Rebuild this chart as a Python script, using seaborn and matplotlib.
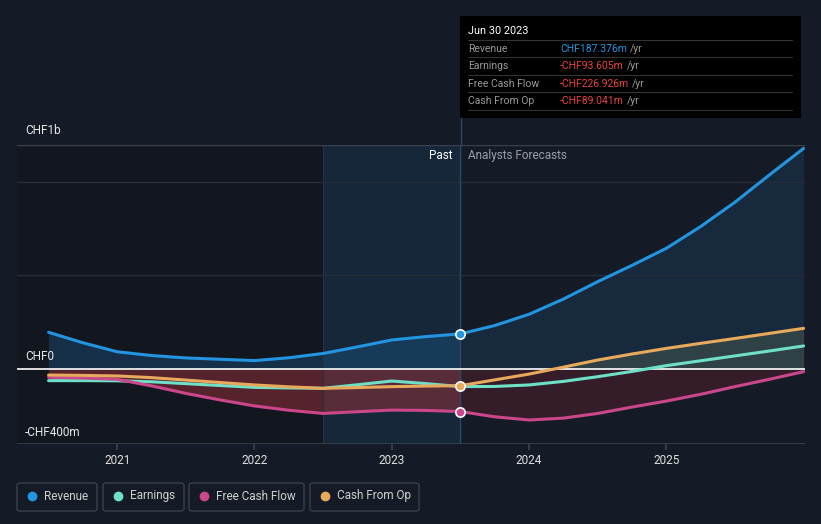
import numpy as np
import pandas as pd
import matplotlib.pyplot as plt
import seaborn as sns
from matplotlib.patches import FancyBboxPatch, Rectangle

# values in CHF millions, x in decimal years
years_past = [2020.5, 2020.75, 2021.0, 2021.25, 2021.5, 2021.75, 2022.0,
              2022.25, 2022.5, 2022.75, 2023.0, 2023.25, 2023.5]
years_fc = [2023.5, 2023.75, 2024.0, 2024.25, 2024.5, 2024.75, 2025.0,
            2025.25, 2025.5, 2025.75, 2026.0]

revenue_past = [196, 140, 92, 72, 59, 52, 45, 60, 83, 118, 155, 173, 187.376]
revenue_fc = [187.376, 232, 292, 373, 466, 553, 644, 760, 890, 1035, 1177]
earnings_past = [-62, -62, -63, -68, -78, -88, -98, -101, -103, -84, -64, -78, -93.605]
earnings_fc = [-93.605, -93, -85, -66, -41, -13, 18, 44, 70, 96, 123]
fcf_past = [-44, -48, -55, -90, -130, -165, -197, -220, -237, -228, -219, -221, -226.926]
fcf_fc = [-226.926, -255, -272, -262, -237, -203, -171, -135, -94, -55, -14]
cfo_past = [-32, -34, -37, -46, -59, -72, -85, -95, -103, -99, -94, -91, -89.041]
cfo_fc = [-89.041, -58, -27, 10, 48, 80, 110, 137, 163, 190, 217]

series_names = ['Revenue', 'Earnings', 'Free Cash Flow', 'Cash From Op']
colors = ['#2394df', '#6ee0c8', '#c9478a', '#e8a95d']
tip_values = ['CHF187.376m', '-CHF93.605m', '-CHF226.926m', '-CHF89.041m']

bg = '#151b26'
sns.set_theme(style='dark')
plt.rcParams['font.family'] = ['Roboto', 'DejaVu Sans']

fig = plt.figure(figsize=(8.21, 5.24), dpi=100, facecolor=bg)
ax = fig.add_axes([17/821, 80/524, 788/821, 299/524])
ax.set_facecolor(bg)

ymin, ymax = -400, 1195
ax.set_xlim(2020.27, 2026.01)
ax.set_ylim(ymin, ymax)

# shaded areas
ax.axvspan(2020.27, 2022.5, color='#0f131b', alpha=0.6, lw=0)
ax.axvspan(2022.5, 2023.5, color='#163a58', alpha=0.4, lw=0)
ax.axvline(2022.5, color='#26323e', lw=0.8)

rows = []
for name, past, fc in zip(series_names,
                          [revenue_past, earnings_past, fcf_past, cfo_past],
                          [revenue_fc, earnings_fc, fcf_fc, cfo_fc]):
    for x, v in zip(years_past, past):
        rows.append({'year': x, 'value': v, 'series': name})
    for x, v in zip(years_fc[1:], fc[1:]):
        rows.append({'year': x, 'value': v, 'series': name})
df = pd.DataFrame(rows)

all_x = years_past + years_fc[1:]
rev = np.array(revenue_past + revenue_fc[1:])
fcf = np.array(fcf_past + fcf_fc[1:])
cfo = np.array(cfo_past + cfo_fc[1:])
earn = np.array(earnings_past + earnings_fc[1:])
n = len(years_past)

ax.fill_between(all_x[:n], 0, rev[:n], color='#1f5f95', alpha=0.35, lw=0)
ax.fill_between(all_x[n - 1:], 0, rev[n - 1:], color='#1d4a72', alpha=0.3, lw=0)
lowest = np.minimum(np.minimum(fcf, cfo), earn)
ax.fill_between(all_x[:n], 0, lowest[:n], color='#b8333c', alpha=0.42, lw=0)
ax.fill_between(all_x[n - 1:], 0, np.minimum(lowest[n - 1:], 0), color='#6e2330', alpha=0.35, lw=0)
ax.fill_between(all_x[n - 1:], 0, np.maximum(np.maximum(cfo, earn)[n - 1:], 0),
                color='#4a5a50', alpha=0.5, lw=0)

# grid lines
for yv in [500, 1000, ymax]:
    ax.axhline(yv, color='#3a414d' if yv == ymax else '#262d38', lw=1)
ax.axhline(0, color='white', lw=1.2, zorder=3)
ax.axhline(ymin, color='#3a414d', lw=1.2)

palette = dict(zip(series_names, colors))
sns.lineplot(data=df, x='year', y='value', hue='series', palette=palette,
             lw=2.2, legend=False, ax=ax, zorder=4, sort=True)

# points at Jun 30 2023
ax.axvline(2023.5, color='#2a4a66', lw=1, zorder=2)
for name, col in zip(series_names, colors):
    if name == 'Earnings':
        continue
    v = df[(df.series == name) & (df.year == 2023.5)].value.iloc[0]
    ax.scatter([2023.5], [v], s=45, color=col, edgecolor='white', lw=1.2, zorder=6)

ax.set_xticks([2021, 2022, 2023, 2024, 2025])
ax.set_xticklabels(['2021', '2022', '2023', '2024', '2025'], color='#e0e0e0', fontsize=8.5)
ax.tick_params(axis='x', length=4, color='#3a414d', pad=3, bottom=True)
ax.set_yticks([])
ax.set_xlabel('')
ax.set_ylabel('')
for s in ax.spines.values():
    s.set_visible(False)

# y labels
fig.text(25/821, 1 - 131/524, 'CHF1b', color='#e8e8e8', fontsize=8.5, va='center')
fig.text(25/821, 1 - 357/524, 'CHF0', color='#e8e8e8', fontsize=8.5, va='center')
fig.text(25/821, 1 - 432/524, '-CHF400m', color='#e8e8e8', fontsize=8.5, va='center')

fig.text(452/821, 1 - 156/524, 'Past', color='white', fontsize=8.5, ha='right', va='center')
fig.text(468/821, 1 - 156/524, 'Analysts Forecasts', color='#9aa0a8', fontsize=8.5, va='center')

# tooltip
fig.add_artist(plt.Line2D([461/821, 461/821], [1 - 145/524, 1 - 118/524], color='#2a4a66', lw=1))
fig.add_artist(Rectangle((460/821, 1 - 118/524), 341/821, 102/524, transform=fig.transFigure,
                         facecolor='black', edgecolor='none'))
fig.text(468/821, 1 - 31/524, 'Jun 30 2023', color='white', fontsize=7.8, va='center')
row_y = [49, 66, 84, 101]
for i, (name, val) in enumerate(zip(series_names, tip_values)):
    yy = 1 - row_y[i] / 524
    fig.add_artist(plt.Line2D([468/821, 792/821], [1 - (row_y[i] - 9) / 524] * 2,
                              color='#333333', lw=0.8))
    fig.text(468/821, yy, name, color='#9a9a9a', fontsize=7.5, va='center')
    t = fig.text(560/821, yy, val, color='#2394df' if i == 0 else '#e8423f',
                 fontsize=7.5, va='center')
    fig.canvas.draw()
    bb = t.get_window_extent()
    fig.text(bb.x1 / 821 + 3/821, yy, '/yr', color='#9a9a9a', fontsize=7.5, va='center')
fig.add_artist(plt.Line2D([468/821, 792/821], [1 - 110/524] * 2, color='#333333', lw=0.8))

# legend boxes
boxes = [(17, 80), (103, 81), (189, 115), (310, 109)]
for (bx, bw), name, col in zip(boxes, series_names, colors):
    fig.add_artist(FancyBboxPatch((bx/821, 1 - 511/524), bw/821, 28/524,
                                  boxstyle='round,pad=0,rounding_size=0.004',
                                  transform=fig.transFigure, facecolor=bg,
                                  edgecolor='#3a414d', lw=1))
    fig.add_artist(plt.Line2D([(bx + 15)/821], [1 - 496/524], marker='o', ms=6,
                              color=col, transform=fig.transFigure))
    fig.text((bx + 27)/821, 1 - 496/524, name, color='#d0d0d0', fontsize=8.5, va='center')

fig.savefig('out.png', dpi=100, facecolor=bg)
